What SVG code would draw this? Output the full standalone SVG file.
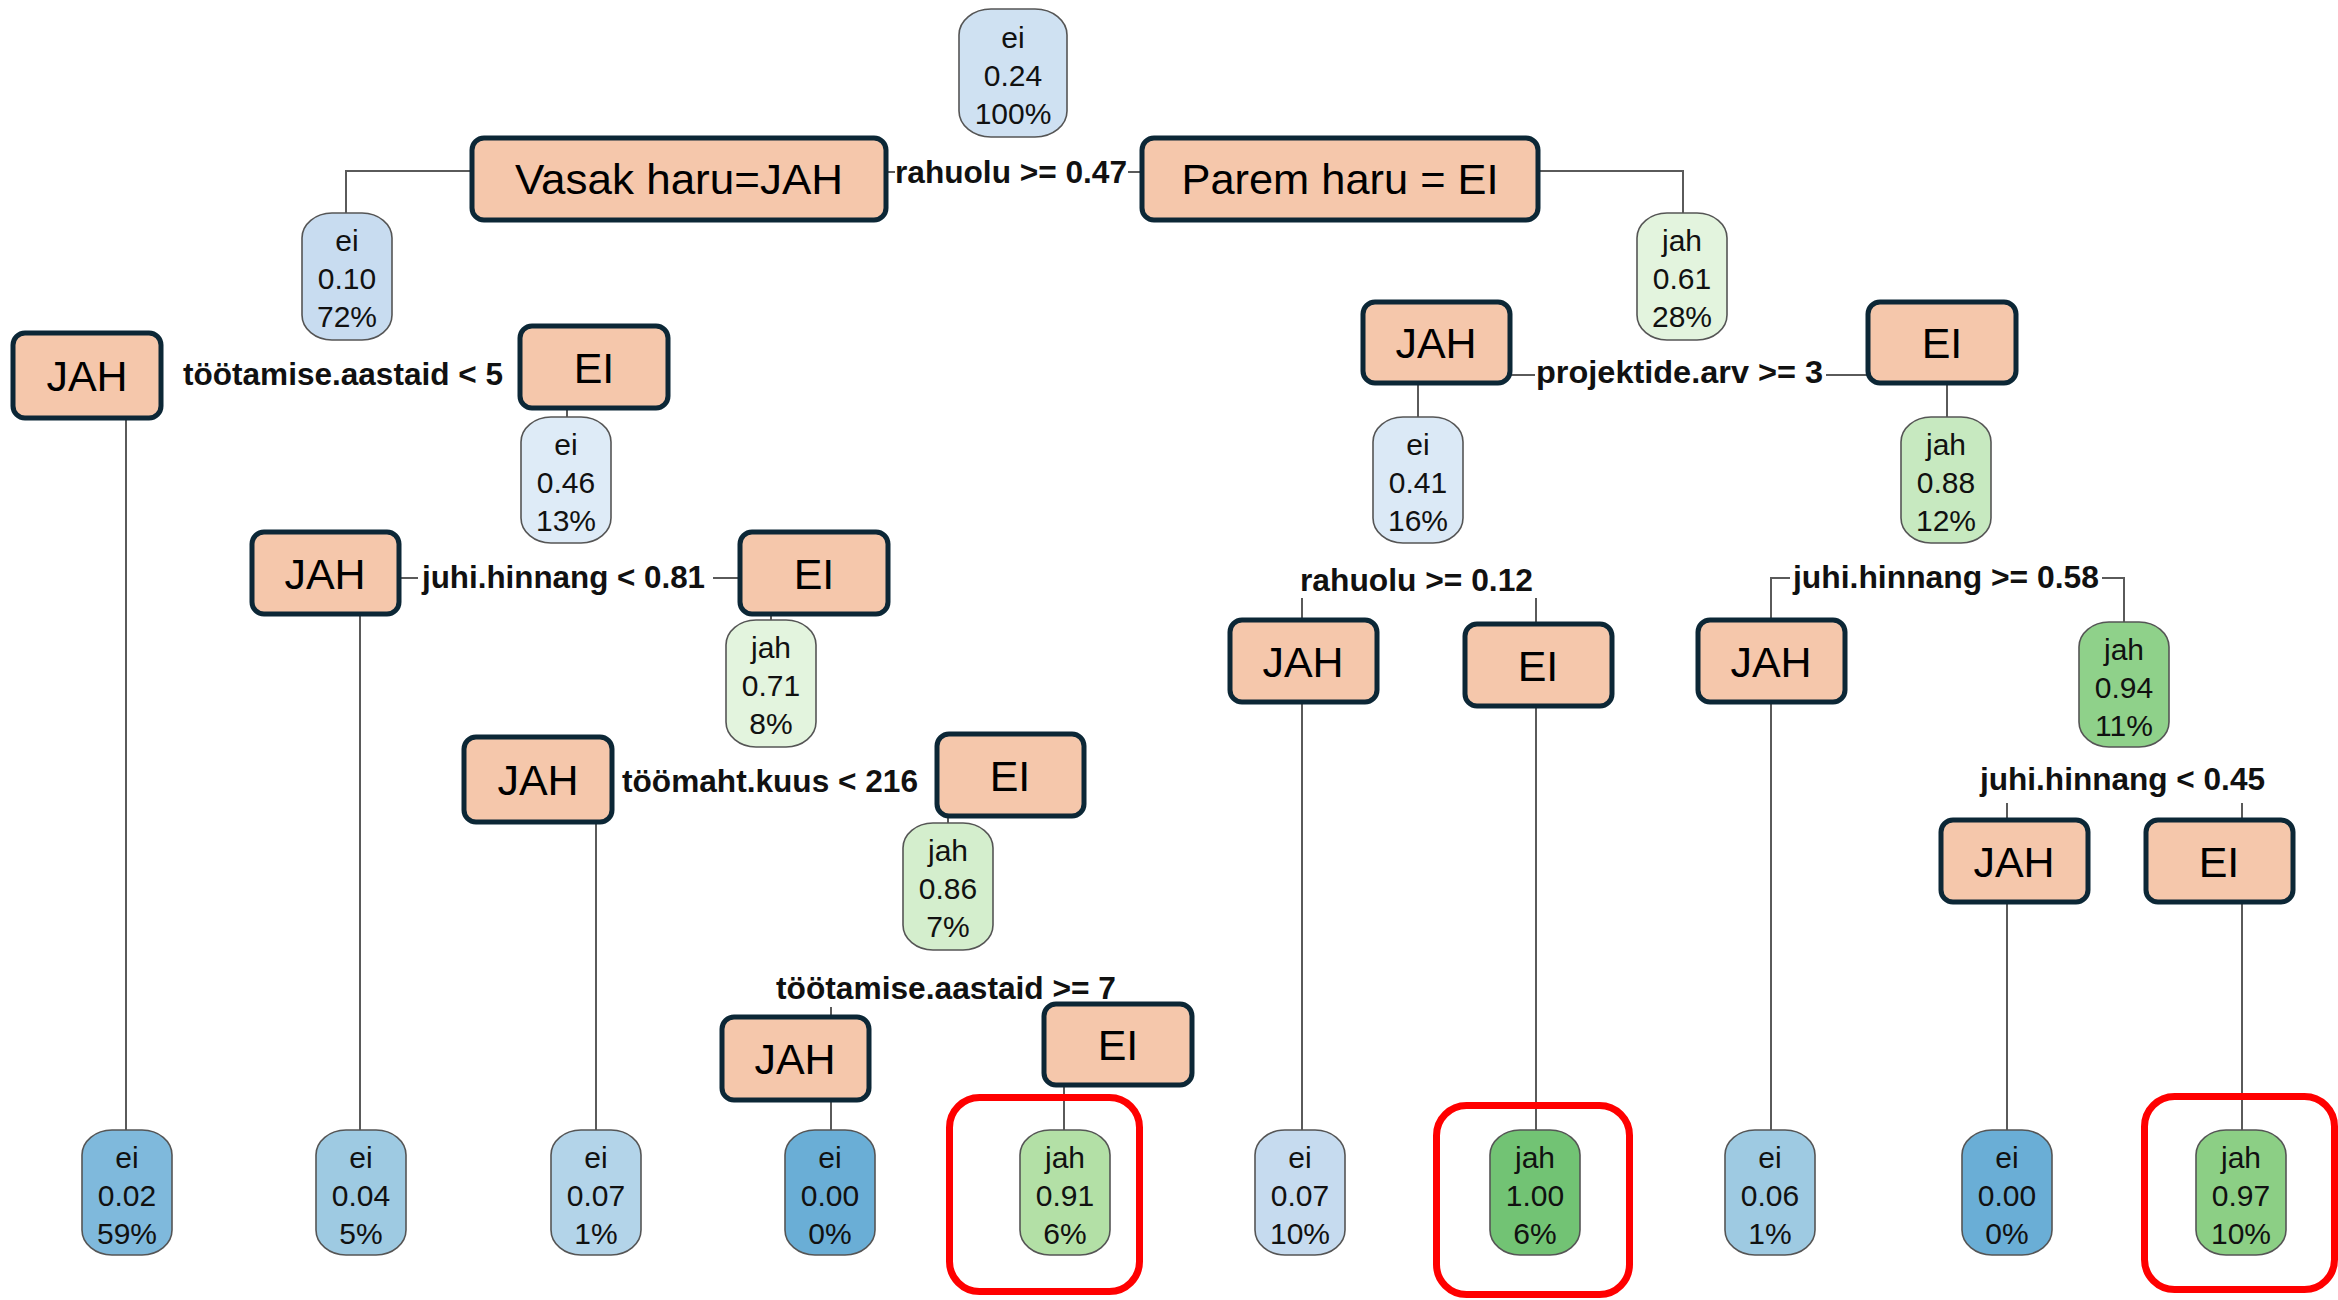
<svg xmlns="http://www.w3.org/2000/svg" width="2338" height="1300" viewBox="0 0 2338 1300">
<style>
.box{fill:#f5c7ab;stroke:#0c2736;stroke-width:5}
.bt{font-family:"Liberation Sans",Arial,sans-serif;font-size:43px;fill:#000;text-anchor:middle}
.ov{stroke:#555;stroke-width:1.6}
.ot{font-family:"Liberation Sans",Arial,sans-serif;font-size:30px;fill:#111;text-anchor:middle}
.lb{font-family:"Liberation Sans",Arial,sans-serif;font-size:31px;font-weight:bold;fill:#111}
.cn{stroke:#5a5a5a;stroke-width:2;fill:none}
.red{fill:none;stroke:#ff0000;stroke-width:7}
</style>
<rect width="2338" height="1300" fill="#fff"/>
<g id="connectors">
<path class="cn" d="M472,171 H346 V213"/>
<path class="cn" d="M887,172 H895 M1128,172 H1142"/>
<path class="cn" d="M1538,171 H1683 V213"/>
<path class="cn" d="M126,418 V1130"/>
<path class="cn" d="M567,408 V417"/>
<path class="cn" d="M399,578 H418 M713,578 H740"/>
<path class="cn" d="M360,614 V1130"/>
<path class="cn" d="M771,614 V620"/>
<path class="cn" d="M596,822 V1130"/>
<path class="cn" d="M948,816 V823"/>
<path class="cn" d="M831,1007 V1130"/>
<path class="cn" d="M1064,1085 V1130"/>
<path class="cn" d="M1510,375 H1535 M1826,375 H1868"/>
<path class="cn" d="M1418,383 V417"/>
<path class="cn" d="M1947,383 V417"/>
<path class="cn" d="M1302,598 V1130"/>
<path class="cn" d="M1536,598 V1130"/>
<path class="cn" d="M1790,578 H1771 V1130"/>
<path class="cn" d="M2102,578 H2124 V622"/>
<path class="cn" d="M2007,803 V1130"/>
<path class="cn" d="M2242,803 V1130"/>
</g>
<g id="split-labels">
<text class="lb" x="895" y="183" textLength="232" lengthAdjust="spacingAndGlyphs">rahuolu &gt;= 0.47</text>
<text class="lb" x="183" y="385" textLength="320" lengthAdjust="spacingAndGlyphs">töötamise.aastaid &lt; 5</text>
<text class="lb" x="422" y="588" textLength="283" lengthAdjust="spacingAndGlyphs">juhi.hinnang &lt; 0.81</text>
<text class="lb" x="622" y="792" textLength="296" lengthAdjust="spacingAndGlyphs">töömaht.kuus &lt; 216</text>
<text class="lb" x="776" y="999" textLength="340" lengthAdjust="spacingAndGlyphs">töötamise.aastaid &gt;= 7</text>
<text class="lb" x="1536" y="383" textLength="287" lengthAdjust="spacingAndGlyphs">projektide.arv &gt;= 3</text>
<text class="lb" x="1300" y="591" textLength="233" lengthAdjust="spacingAndGlyphs">rahuolu &gt;= 0.12</text>
<text class="lb" x="1793" y="588" textLength="306" lengthAdjust="spacingAndGlyphs">juhi.hinnang &gt;= 0.58</text>
<text class="lb" x="1980" y="790" textLength="285" lengthAdjust="spacingAndGlyphs">juhi.hinnang &lt; 0.45</text>
</g>
<g id="n-root"><rect class="ov" x="959" y="9" width="108" height="128" rx="32" ry="26" fill="#cfe1f2"/><text class="ot" x="1013" y="48">ei</text><text class="ot" x="1013" y="86">0.24</text><text class="ot" x="1013" y="124">100%</text></g>
<g id="n2"><rect class="ov" x="302" y="213" width="90" height="127" rx="30" ry="25" fill="#c8dcf0"/><text class="ot" x="347" y="251">ei</text><text class="ot" x="347" y="289">0.10</text><text class="ot" x="347" y="327">72%</text></g>
<g id="n3"><rect class="ov" x="1637" y="213" width="90" height="127" rx="30" ry="25" fill="#e3f4de"/><text class="ot" x="1682" y="251">jah</text><text class="ot" x="1682" y="289">0.61</text><text class="ot" x="1682" y="327">28%</text></g>
<g id="n4"><rect class="ov" x="521" y="417" width="90" height="126" rx="30" ry="25" fill="#deebf7"/><text class="ot" x="566" y="455">ei</text><text class="ot" x="566" y="493">0.46</text><text class="ot" x="566" y="531">13%</text></g>
<g id="n5"><rect class="ov" x="726" y="620" width="90" height="127" rx="30" ry="25" fill="#e3f4de"/><text class="ot" x="771" y="658">jah</text><text class="ot" x="771" y="696">0.71</text><text class="ot" x="771" y="734">8%</text></g>
<g id="n6"><rect class="ov" x="903" y="823" width="90" height="127" rx="30" ry="25" fill="#d4eecd"/><text class="ot" x="948" y="861">jah</text><text class="ot" x="948" y="899">0.86</text><text class="ot" x="948" y="937">7%</text></g>
<g id="n7"><rect class="ov" x="1373" y="417" width="90" height="126" rx="30" ry="25" fill="#dbe9f6"/><text class="ot" x="1418" y="455">ei</text><text class="ot" x="1418" y="493">0.41</text><text class="ot" x="1418" y="531">16%</text></g>
<g id="n8"><rect class="ov" x="1901" y="417" width="90" height="126" rx="30" ry="25" fill="#c7e9c0"/><text class="ot" x="1946" y="455">jah</text><text class="ot" x="1946" y="493">0.88</text><text class="ot" x="1946" y="531">12%</text></g>
<g id="n9"><rect class="ov" x="2079" y="622" width="90" height="125" rx="30" ry="25" fill="#8fd18a"/><text class="ot" x="2124" y="660">jah</text><text class="ot" x="2124" y="698">0.94</text><text class="ot" x="2124" y="736">11%</text></g>
<g id="leaf1"><rect class="ov" x="82" y="1130" width="90" height="125" rx="30" ry="25" fill="#7fb9dc"/><text class="ot" x="127" y="1168">ei</text><text class="ot" x="127" y="1206">0.02</text><text class="ot" x="127" y="1244">59%</text></g>
<g id="leaf2"><rect class="ov" x="316" y="1130" width="90" height="125" rx="30" ry="25" fill="#9ecae2"/><text class="ot" x="361" y="1168">ei</text><text class="ot" x="361" y="1206">0.04</text><text class="ot" x="361" y="1244">5%</text></g>
<g id="leaf3"><rect class="ov" x="551" y="1130" width="90" height="125" rx="30" ry="25" fill="#b3d4e9"/><text class="ot" x="596" y="1168">ei</text><text class="ot" x="596" y="1206">0.07</text><text class="ot" x="596" y="1244">1%</text></g>
<g id="leaf4"><rect class="ov" x="785" y="1130" width="90" height="125" rx="30" ry="25" fill="#6aaed6"/><text class="ot" x="830" y="1168">ei</text><text class="ot" x="830" y="1206">0.00</text><text class="ot" x="830" y="1244">0%</text></g>
<g id="leaf5"><rect class="ov" x="1020" y="1130" width="90" height="125" rx="30" ry="25" fill="#b3e0a6"/><text class="ot" x="1065" y="1168">jah</text><text class="ot" x="1065" y="1206">0.91</text><text class="ot" x="1065" y="1244">6%</text></g>
<g id="leaf6"><rect class="ov" x="1255" y="1130" width="90" height="125" rx="30" ry="25" fill="#c6dbef"/><text class="ot" x="1300" y="1168">ei</text><text class="ot" x="1300" y="1206">0.07</text><text class="ot" x="1300" y="1244">10%</text></g>
<g id="leaf7"><rect class="ov" x="1490" y="1130" width="90" height="125" rx="30" ry="25" fill="#72c374"/><text class="ot" x="1535" y="1168">jah</text><text class="ot" x="1535" y="1206">1.00</text><text class="ot" x="1535" y="1244">6%</text></g>
<g id="leaf8"><rect class="ov" x="1725" y="1130" width="90" height="125" rx="30" ry="25" fill="#9ecae2"/><text class="ot" x="1770" y="1168">ei</text><text class="ot" x="1770" y="1206">0.06</text><text class="ot" x="1770" y="1244">1%</text></g>
<g id="leaf9"><rect class="ov" x="1962" y="1130" width="90" height="125" rx="30" ry="25" fill="#6aaed6"/><text class="ot" x="2007" y="1168">ei</text><text class="ot" x="2007" y="1206">0.00</text><text class="ot" x="2007" y="1244">0%</text></g>
<g id="leaf10"><rect class="ov" x="2196" y="1130" width="90" height="125" rx="30" ry="25" fill="#8ccf85"/><text class="ot" x="2241" y="1168">jah</text><text class="ot" x="2241" y="1206">0.97</text><text class="ot" x="2241" y="1244">10%</text></g>
<g id="b-vasak"><rect class="box" x="472" y="138" width="414" height="82" rx="12"/><text class="bt" x="679" y="194" textLength="328" lengthAdjust="spacingAndGlyphs">Vasak haru=JAH</text></g>
<g id="b-parem"><rect class="box" x="1142" y="138" width="396" height="82" rx="12"/><text class="bt" x="1340" y="194" textLength="317" lengthAdjust="spacingAndGlyphs">Parem haru = EI</text></g>
<g id="b-jah1"><rect class="box" x="13" y="333" width="148" height="85" rx="12"/><text class="bt" x="87" y="391">JAH</text></g>
<g id="b-ei1"><rect class="box" x="520" y="326" width="148" height="82" rx="12"/><text class="bt" x="594" y="383">EI</text></g>
<g id="b-jah2"><rect class="box" x="252" y="532" width="147" height="82" rx="12"/><text class="bt" x="325" y="589">JAH</text></g>
<g id="b-ei2"><rect class="box" x="740" y="532" width="148" height="82" rx="12"/><text class="bt" x="814" y="589">EI</text></g>
<g id="b-jah3"><rect class="box" x="464" y="737" width="148" height="85" rx="12"/><text class="bt" x="538" y="795">JAH</text></g>
<g id="b-ei3"><rect class="box" x="937" y="734" width="147" height="82" rx="12"/><text class="bt" x="1010" y="791">EI</text></g>
<g id="b-jah4"><rect class="box" x="722" y="1017" width="147" height="83" rx="12"/><text class="bt" x="795" y="1074">JAH</text></g>
<g id="b-ei4"><rect class="box" x="1044" y="1004" width="148" height="81" rx="12"/><text class="bt" x="1118" y="1060">EI</text></g>
<g id="b-jah5"><rect class="box" x="1363" y="302" width="147" height="81" rx="12"/><text class="bt" x="1436" y="358">JAH</text></g>
<g id="b-ei5"><rect class="box" x="1868" y="302" width="148" height="81" rx="12"/><text class="bt" x="1942" y="358">EI</text></g>
<g id="b-jah6"><rect class="box" x="1230" y="620" width="147" height="82" rx="12"/><text class="bt" x="1303" y="677">JAH</text></g>
<g id="b-ei6"><rect class="box" x="1465" y="624" width="147" height="82" rx="12"/><text class="bt" x="1538" y="681">EI</text></g>
<g id="b-jah7"><rect class="box" x="1698" y="620" width="147" height="82" rx="12"/><text class="bt" x="1771" y="677">JAH</text></g>
<g id="b-jah8"><rect class="box" x="1941" y="820" width="147" height="82" rx="12"/><text class="bt" x="2014" y="877">JAH</text></g>
<g id="b-ei8"><rect class="box" x="2146" y="820" width="147" height="82" rx="12"/><text class="bt" x="2219" y="877">EI</text></g>
<g id="highlights">
<rect class="red" x="949.5" y="1097.5" width="190" height="194" rx="30"/>
<rect class="red" x="1436.5" y="1105.5" width="193" height="189" rx="30"/>
<rect class="red" x="2144.5" y="1096.5" width="190" height="193" rx="30"/>
</g>
</svg>
